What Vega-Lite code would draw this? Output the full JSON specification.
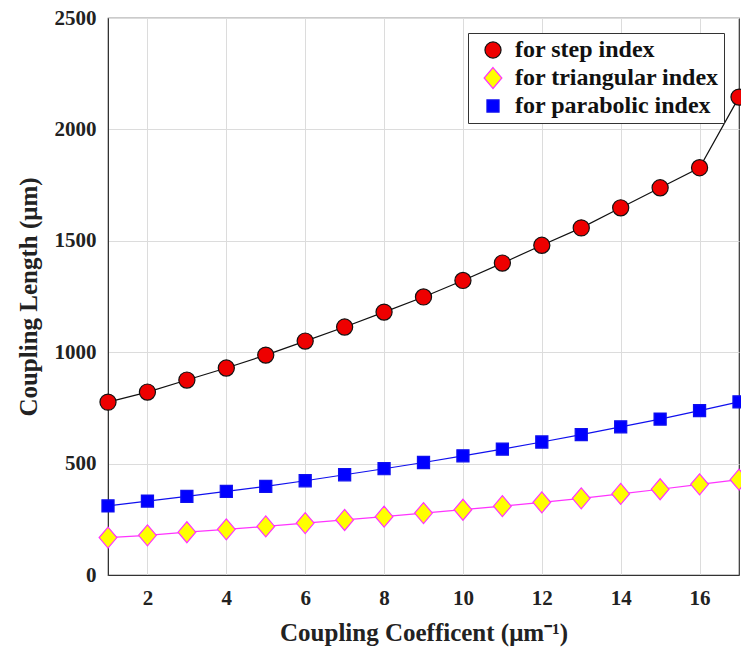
{
  "$schema": "https://vega.github.io/schema/vega-lite/v6.json",
  "width": 631,
  "height": 557,
  "autosize": "none",
  "padding": {"left": 108, "top": 18, "right": 2, "bottom": 78},
  "background": "white",
  "config": {
    "font": "Liberation Serif",
    "view": {"stroke": "#333333", "strokeWidth": 1.2},
    "axis": {
      "labelFont": "Liberation Serif", "labelFontWeight": "bold", "labelFontSize": 21, "labelColor": "#222222",
      "titleFont": "Liberation Serif", "titleFontWeight": "bold", "titleFontSize": 25, "titleColor": "#222222",
      "gridColor": "#dcdcdc", "gridWidth": 1, "domainColor": "#333333", "ticks": false
    },
    "legend": {
      "orient": "top-right", "offset": 15,
      "fillColor": "white", "strokeColor": "#333333", "padding": 5,
      "labelFont": "Liberation Serif", "labelFontWeight": "bold", "labelFontSize": 24, "labelColor": "#111111",
      "labelLimit": 400, "symbolSize": 260, "symbolStrokeWidth": 1.2, "rowPadding": 3, "labelOffset": 10,
      "symbolOffset": 8
    }
  },
  "data": {
    "values": [
      {"k": 1, "L": 776, "s": "for step index"},
      {"k": 2, "L": 821, "s": "for step index"},
      {"k": 3, "L": 875, "s": "for step index"},
      {"k": 4, "L": 929, "s": "for step index"},
      {"k": 5, "L": 987, "s": "for step index"},
      {"k": 6, "L": 1050, "s": "for step index"},
      {"k": 7, "L": 1113, "s": "for step index"},
      {"k": 8, "L": 1180, "s": "for step index"},
      {"k": 9, "L": 1248, "s": "for step index"},
      {"k": 10, "L": 1322, "s": "for step index"},
      {"k": 11, "L": 1400, "s": "for step index"},
      {"k": 12, "L": 1480, "s": "for step index"},
      {"k": 13, "L": 1558, "s": "for step index"},
      {"k": 14, "L": 1648, "s": "for step index"},
      {"k": 15, "L": 1738, "s": "for step index"},
      {"k": 16, "L": 1828, "s": "for step index"},
      {"k": 17, "L": 2145, "s": "for step index"},
      {"k": 1, "L": 168, "s": "for triangular index"},
      {"k": 2, "L": 178, "s": "for triangular index"},
      {"k": 3, "L": 192, "s": "for triangular index"},
      {"k": 4, "L": 205, "s": "for triangular index"},
      {"k": 5, "L": 218, "s": "for triangular index"},
      {"k": 6, "L": 233, "s": "for triangular index"},
      {"k": 7, "L": 247, "s": "for triangular index"},
      {"k": 8, "L": 262, "s": "for triangular index"},
      {"k": 9, "L": 278, "s": "for triangular index"},
      {"k": 10, "L": 293, "s": "for triangular index"},
      {"k": 11, "L": 309, "s": "for triangular index"},
      {"k": 12, "L": 326, "s": "for triangular index"},
      {"k": 13, "L": 344, "s": "for triangular index"},
      {"k": 14, "L": 364, "s": "for triangular index"},
      {"k": 15, "L": 385, "s": "for triangular index"},
      {"k": 16, "L": 407, "s": "for triangular index"},
      {"k": 17, "L": 428, "s": "for triangular index"},
      {"k": 1, "L": 310, "s": "for parabolic index"},
      {"k": 2, "L": 332, "s": "for parabolic index"},
      {"k": 3, "L": 353, "s": "for parabolic index"},
      {"k": 4, "L": 375, "s": "for parabolic index"},
      {"k": 5, "L": 398, "s": "for parabolic index"},
      {"k": 6, "L": 423, "s": "for parabolic index"},
      {"k": 7, "L": 450, "s": "for parabolic index"},
      {"k": 8, "L": 477, "s": "for parabolic index"},
      {"k": 9, "L": 505, "s": "for parabolic index"},
      {"k": 10, "L": 535, "s": "for parabolic index"},
      {"k": 11, "L": 565, "s": "for parabolic index"},
      {"k": 12, "L": 597, "s": "for parabolic index"},
      {"k": 13, "L": 630, "s": "for parabolic index"},
      {"k": 14, "L": 665, "s": "for parabolic index"},
      {"k": 15, "L": 700, "s": "for parabolic index"},
      {"k": 16, "L": 738, "s": "for parabolic index"},
      {"k": 17, "L": 777, "s": "for parabolic index"}
    ]
  },
  "encoding": {
    "x": {
      "field": "k", "type": "quantitative",
      "scale": {"domain": [1, 17], "nice": false, "zero": false},
      "axis": {"values": [2, 4, 6, 8, 10, 12, 14, 16], "title": "Coupling Coefficent (μm⁻¹)", "labelPadding": 12, "titlePadding": 12}
    },
    "y": {
      "field": "L", "type": "quantitative",
      "scale": {"domain": [0, 2500], "nice": false},
      "axis": {"values": [0, 500, 1000, 1500, 2000, 2500], "format": "d", "title": "Coupling Length (μm)", "labelPadding": 12, "titlePadding": 13}
    },
    "stroke": {
      "field": "s", "type": "nominal",
      "sort": ["for step index", "for triangular index", "for parabolic index"],
      "scale": {"domain": ["for step index", "for triangular index", "for parabolic index"], "range": ["#111111", "#ff33ff", "#1010ee"]},
      "legend": {"title": null}
    }
  },
  "layer": [
    {
      "mark": {"type": "line", "strokeWidth": 1.2}
    },
    {
      "mark": {"type": "point", "filled": false, "opacity": 1, "strokeWidth": 1.2, "size": 260},
      "encoding": {
        "fill": {
          "field": "s", "type": "nominal",
          "sort": ["for step index", "for triangular index", "for parabolic index"],
          "scale": {"domain": ["for step index", "for triangular index", "for parabolic index"], "range": ["#ee0000", "#ffff00", "#0000ff"]},
          "legend": {"title": null}
        },
        "shape": {
          "field": "s", "type": "nominal",
          "sort": ["for step index", "for triangular index", "for parabolic index"],
          "scale": {"domain": ["for step index", "for triangular index", "for parabolic index"], "range": ["circle", "M0,-1.3L1.1,0L0,1.3L-1.1,0Z", "M-0.75,-0.75L0.75,-0.75L0.75,0.75L-0.75,0.75Z"]},
          "legend": {"title": null}
        }
      }
    }
  ]
}
